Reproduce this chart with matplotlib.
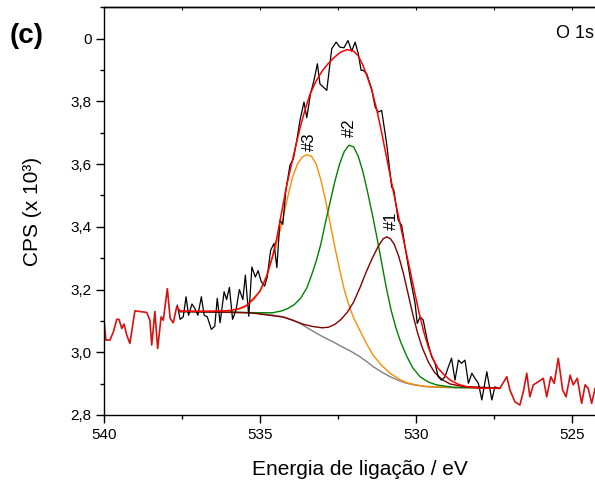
import matplotlib.pyplot as plt
from matplotlib.ticker import MultipleLocator, FixedLocator, FixedFormatter, NullFormatter

plt.rcParams['font.family'] = ['Liberation Sans', 'DejaVu Sans']

# espectro fora da regiao do ajuste (vermelho)
left_x = [540.00, 539.94, 539.81, 539.70, 539.59, 539.52, 539.43, 539.36, 539.27, 539.17,
          539.01, 538.63, 538.53, 538.47, 538.37, 538.28, 538.17, 538.10, 537.97, 537.88,
          537.78, 537.67, 537.56]
left_y = [3.102, 3.039, 3.039, 3.065, 3.105, 3.105, 3.076, 3.090, 3.055, 3.028,
          3.132, 3.127, 3.102, 3.023, 3.130, 3.012, 3.113, 3.102, 3.203, 3.108,
          3.094, 3.145, 3.132]

right_x = [527.36, 527.31, 527.09, 526.99, 526.83, 526.67, 526.56, 526.45, 526.35, 526.24,
           526.08, 525.92, 525.81, 525.68, 525.57, 525.44, 525.30, 525.19, 525.06, 524.96,
           524.83, 524.69, 524.58, 524.48, 524.37, 524.26, 524.10]
right_y = [2.885, 2.885, 2.922, 2.880, 2.842, 2.832, 2.874, 2.933, 2.858, 2.896,
           2.906, 2.917, 2.858, 2.922, 2.901, 2.981, 2.880, 2.858, 2.927, 2.896,
           2.917, 2.837, 2.896, 2.885, 2.837, 2.885, 2.870]

# dados experimentais na regiao do ajuste (preto)
raw_x = [537.65, 537.56, 537.46, 537.37, 537.29, 537.18, 537.09, 536.99, 536.88, 536.79,
         536.69, 536.56, 536.45, 536.37, 536.28, 536.15, 536.07, 535.98, 535.88, 535.77,
         535.66, 535.55, 535.47, 535.36, 535.26, 535.15, 535.06, 534.96, 534.85, 534.77,
         534.66, 534.55, 534.46, 534.36, 534.27, 534.17, 534.04, 533.93, 533.82, 533.72,
         533.59, 533.50, 533.38, 533.27, 533.16, 533.08, 532.86, 532.70, 532.56, 532.44,
         532.31, 532.18, 532.06, 531.95, 531.85, 531.76, 531.69, 531.58, 531.42, 531.31,
         531.21, 531.10, 530.94, 530.78, 530.71, 530.57, 530.46, 530.35, 530.19, 530.03,
         529.96, 529.87, 529.77, 529.64, 529.50, 529.39, 529.29, 529.18, 529.07, 528.96,
         528.86, 528.75, 528.64, 528.54, 528.43, 528.32, 528.21, 528.11, 528.00, 527.89,
         527.73, 527.57, 527.47, 527.36]
raw_y = [3.150, 3.105, 3.113, 3.177, 3.118, 3.154, 3.140, 3.118, 3.177, 3.118,
         3.113, 3.073, 3.083, 3.172, 3.094, 3.193, 3.168, 3.207, 3.105, 3.134,
         3.200, 3.168, 3.246, 3.115, 3.272, 3.240, 3.260, 3.225, 3.211, 3.239,
         3.325, 3.347, 3.270, 3.421, 3.408, 3.517, 3.596, 3.617, 3.676, 3.739,
         3.798, 3.748, 3.825, 3.867, 3.920, 3.856, 3.835, 3.968, 3.989, 3.973,
         3.971, 3.994, 3.960, 3.989, 3.952, 3.899, 3.899, 3.888, 3.840, 3.782,
         3.766, 3.771, 3.665, 3.527, 3.517, 3.421, 3.405, 3.336, 3.240, 3.156,
         3.092, 3.113, 3.103, 3.039, 2.986, 2.965, 2.922, 2.911, 2.922, 2.954,
         2.981, 2.911, 2.975, 2.965, 2.975, 2.901, 2.933, 2.917, 2.901, 2.848,
         2.938, 2.848, 2.890, 2.885]

# envoltoria do ajuste
env_x = [537.58, 536.50, 536.00, 535.70, 535.45, 535.20, 535.00, 534.80, 534.60, 534.45,
         534.30, 534.15, 534.00, 533.85, 533.70, 533.55, 533.40, 533.20, 533.00, 532.80,
         532.60, 532.40, 532.20, 532.00, 531.85, 531.70, 531.55, 531.40, 531.25, 531.10,
         530.95, 530.80, 530.65, 530.50, 530.35, 530.20, 530.05, 529.90, 529.75, 529.60,
         529.45, 529.30, 529.10, 528.90, 528.65, 528.37, 527.95, 527.31]
env_y = [3.131, 3.131, 3.133, 3.138, 3.148, 3.170, 3.195, 3.238, 3.305, 3.370,
         3.450, 3.530, 3.595, 3.660, 3.722, 3.775, 3.822, 3.865, 3.898, 3.922,
         3.942, 3.958, 3.965, 3.960, 3.945, 3.915, 3.875, 3.830, 3.770, 3.700,
         3.625, 3.550, 3.475, 3.405, 3.335, 3.265, 3.195, 3.125, 3.065, 3.015,
         2.978, 2.950, 2.928, 2.911, 2.898, 2.890, 2.885, 2.885]

# linha de base
bg_x = [537.56, 536.40, 535.60, 535.00, 534.60, 534.25, 533.95, 533.70, 533.45, 533.18,
        532.90, 532.65, 532.40, 532.12, 531.80, 531.55, 531.37, 531.10, 530.83, 530.55,
        530.30, 530.00, 529.66, 529.20, 528.70, 527.36]
bg_y = [3.130, 3.129, 3.127, 3.124, 3.119, 3.113, 3.103, 3.091, 3.076, 3.060,
        3.045, 3.033, 3.019, 3.005, 2.986, 2.968, 2.954, 2.937, 2.922, 2.910,
        2.901, 2.895, 2.890, 2.888, 2.887, 2.886]

# componentes (#3 laranja, #2 verde, #1 vinho)
p3_x = [537.56, 536.00, 535.50, 535.00, 534.75, 534.50, 534.30, 534.10, 533.95, 533.80,
        533.65, 533.50, 533.35, 533.20, 533.05, 532.90, 532.75, 532.60, 532.45, 532.30,
        532.15, 532.00, 531.80, 531.60, 531.37, 531.10, 530.83, 530.55, 530.30, 529.95,
        529.66, 528.70, 527.36]
p3_y = [3.130, 3.131, 3.143, 3.195, 3.255, 3.335, 3.410, 3.500, 3.560, 3.600,
        3.622, 3.630, 3.625, 3.600, 3.550, 3.485, 3.410, 3.335, 3.265, 3.200,
        3.150, 3.110, 3.070, 3.030, 2.990, 2.958, 2.933, 2.915, 2.903, 2.895,
        2.891, 2.888, 2.886]

p2_x = [537.56, 535.00, 534.60, 534.30, 534.10, 533.90, 533.70, 533.50, 533.35, 533.20,
        533.05, 532.90, 532.75, 532.60, 532.45, 532.30, 532.15, 532.00, 531.85, 531.70,
        531.55, 531.40, 531.25, 531.10, 530.95, 530.80, 530.65, 530.50, 530.30, 530.10,
        529.87, 529.60, 529.34, 528.80, 527.36]
p2_y = [3.130, 3.126, 3.126, 3.132, 3.140, 3.152, 3.172, 3.205, 3.245, 3.290,
        3.345, 3.415, 3.480, 3.545, 3.600, 3.640, 3.660, 3.655, 3.625, 3.575,
        3.510, 3.440, 3.365, 3.285, 3.205, 3.135, 3.080, 3.035, 2.988, 2.950,
        2.922, 2.905, 2.896, 2.888, 2.886]

p1_x = [537.56, 535.32, 534.25, 533.90, 533.60, 533.30, 533.00, 532.80, 532.60, 532.40,
        532.20, 532.00, 531.80, 531.60, 531.40, 531.20, 531.05, 530.94, 530.82, 530.70,
        530.55, 530.40, 530.25, 530.10, 529.95, 529.80, 529.60, 529.40, 529.15, 528.91,
        528.50, 527.36]
p1_y = [3.130, 3.126, 3.112, 3.100, 3.089, 3.082, 3.078, 3.080, 3.089, 3.105,
        3.128, 3.160, 3.205, 3.255, 3.300, 3.340, 3.362, 3.368, 3.362, 3.345,
        3.305, 3.250, 3.185, 3.120, 3.062, 3.015, 2.968, 2.935, 2.912, 2.899,
        2.891, 2.886]

ytick_vals = [2.8, 3.0, 3.2, 3.4, 3.6, 3.8, 4.0]
ytick_labels = ['2,8', '3,0', '3,2', '3,4', '3,6', '3,8', '0']
xtick_vals = [540, 535, 530, 525]

fig = plt.figure(figsize=(5.95, 4.83), dpi=100)
ax = fig.add_axes([0.1748, 0.1408, 0.8914, 0.8441])

ax.plot(bg_x, bg_y, color='#808080', lw=1.0)
ax.plot(p3_x, p3_y, color='#ff8c00', lw=1.0)
ax.plot(p2_x, p2_y, color='#008000', lw=1.0)
ax.plot(p1_x, p1_y, color='#800000', lw=1.0)
ax.plot(raw_x, raw_y, color='black', lw=0.9)
ax.plot(left_x, left_y, color='#d81010', lw=1.2)
ax.plot(right_x, right_y, color='#d81010', lw=1.2)
ax.plot(env_x, env_y, color='red', lw=1.1)

ax.text(533.40, 3.67, '#3', rotation=90, ha='center', va='center', fontsize=12)
ax.text(532.13, 3.716, '#2', rotation=90, ha='center', va='center', fontsize=12)
ax.text(530.80, 3.418, '#1', rotation=90, ha='center', va='center', fontsize=12)

ax.set_xlim(540, 523)
ax.set_ylim(2.8, 4.1)
ax.xaxis.set_major_locator(FixedLocator(xtick_vals))
ax.xaxis.set_minor_locator(MultipleLocator(2.5))
ax.yaxis.set_major_locator(FixedLocator(ytick_vals))
ax.yaxis.set_major_formatter(FixedFormatter(ytick_labels))
ax.yaxis.set_minor_locator(MultipleLocator(0.1))

ax.tick_params(which='major', direction='out', length=5.5, width=1, labelsize=11)
ax.tick_params(which='minor', direction='out', length=3, width=1)
ax.tick_params(axis='y', pad=3.5)
ax.tick_params(axis='x', pad=4)
ax.spines['right'].set_visible(False)
for s in ax.spines.values():
    s.set_linewidth(1.0)

# marcas pequenas para dentro no eixo superior
top = ax.secondary_xaxis('top')
top.xaxis.set_major_locator(FixedLocator(xtick_vals))
top.xaxis.set_minor_locator(MultipleLocator(2.5))
top.xaxis.set_major_formatter(NullFormatter())
top.tick_params(which='both', direction='in', length=2, width=0.8)
top.spines['top'].set_linewidth(1.0)

ax.set_xlabel('Energia de ligação / eV', fontsize=15)
ax.set_ylabel('CPS (x 10³)', fontsize=15)
ax.xaxis.set_label_coords(0.4827, -0.110)
ax.yaxis.set_label_coords(-0.117, 0.5)

fig.text(0.017, 0.925, '(c)', fontsize=20, fontweight='bold', ha='left', va='center')
fig.text(0.998, 0.921, 'O 1s', fontsize=13, ha='right', va='baseline')

fig.savefig('out.png', dpi=100)
